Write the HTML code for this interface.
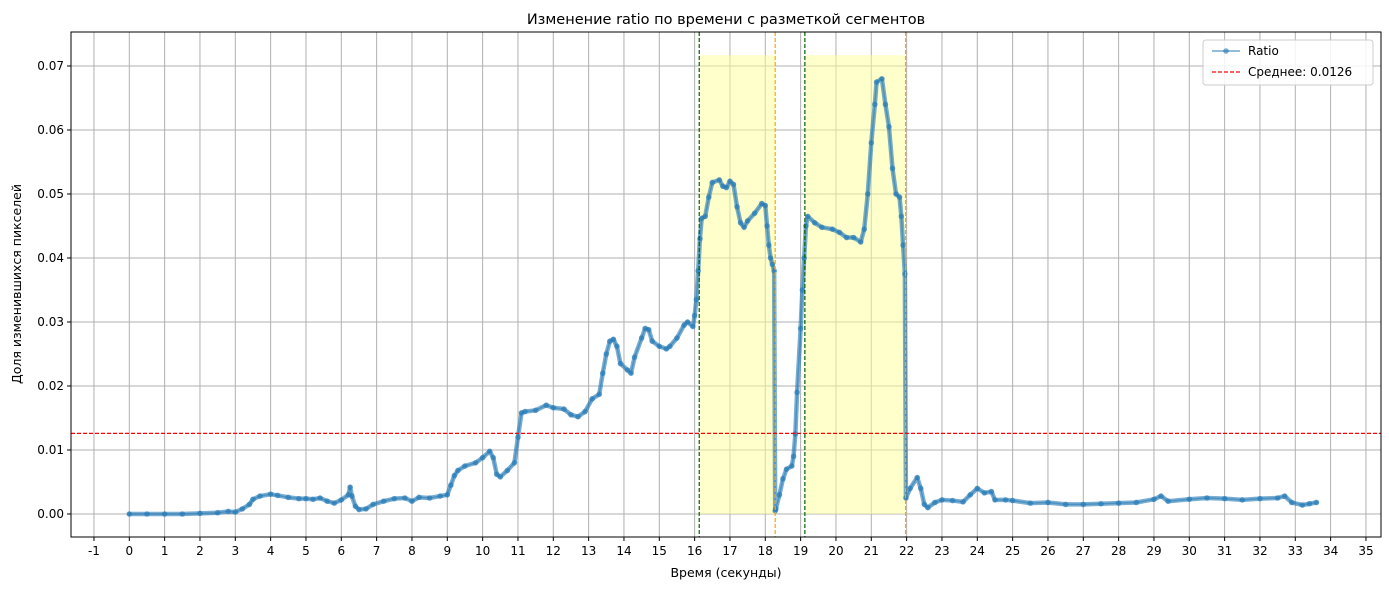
<!DOCTYPE html>
<html><head><meta charset="utf-8"><style>
body{margin:0;background:#fff;font-family:"Liberation Sans","DejaVu Sans",sans-serif}
svg text{font-family:"DejaVu Sans","Liberation Sans",sans-serif}
</style></head><body>
<svg id="c" width="1389" height="590" xmlns="http://www.w3.org/2000/svg"></svg>
<script>
const times=[0,0.5,1,1.5,2,2.5,2.8,3,3.2,3.4,3.5,3.7,4,4.2,4.5,4.8,5,5.2,5.4,5.6,5.8,6,6.2,6.25,6.3,6.4,6.5,6.7,6.9,7.2,7.5,7.8,8,8.2,8.5,8.8,9,9.1,9.2,9.3,9.5,9.8,10,10.2,10.3,10.4,10.5,10.7,10.9,11,11.1,11.2,11.5,11.8,12,12.3,12.5,12.7,12.9,13.1,13.3,13.4,13.5,13.6,13.7,13.8,13.9,14.1,14.2,14.3,14.5,14.6,14.7,14.8,15,15.2,15.3,15.5,15.7,15.8,15.95,16,16.05,16.1,16.15,16.2,16.3,16.4,16.5,16.7,16.8,16.9,17,17.1,17.2,17.3,17.4,17.5,17.7,17.9,18,18.05,18.1,18.15,18.2,18.25,18.28,18.3,18.4,18.5,18.6,18.75,18.8,18.85,18.9,19,19.05,19.1,19.15,19.2,19.4,19.6,19.9,20.1,20.3,20.5,20.7,20.8,20.9,21,21.1,21.15,21.3,21.4,21.5,21.6,21.7,21.8,21.85,21.9,21.95,21.98,22.1,22.3,22.4,22.5,22.6,22.8,23,23.3,23.6,23.8,24,24.2,24.4,24.5,24.8,25,25.5,26,26.5,27,27.5,28,28.5,29,29.2,29.4,30,30.5,31,31.5,32,32.5,32.7,32.9,33.2,33.4,33.6];
const ratios=[0,0,0,0,0.0001,0.0002,0.0004,0.0003,0.0008,0.0015,0.0023,0.0028,0.0031,0.0029,0.0026,0.0024,0.0024,0.0023,0.0025,0.002,0.0017,0.0022,0.003,0.0042,0.0028,0.0012,0.0007,0.0008,0.0015,0.002,0.0024,0.0025,0.002,0.0026,0.0025,0.0028,0.003,0.0045,0.006,0.0068,0.0075,0.008,0.0088,0.0098,0.0088,0.0062,0.0058,0.0068,0.008,0.012,0.0158,0.016,0.0162,0.017,0.0166,0.0164,0.0155,0.0152,0.016,0.018,0.0187,0.022,0.025,0.027,0.0273,0.0262,0.0235,0.0225,0.022,0.0245,0.0275,0.029,0.0288,0.027,0.0262,0.0258,0.0262,0.0275,0.0295,0.03,0.0293,0.031,0.0335,0.038,0.043,0.0462,0.0465,0.0495,0.0518,0.0522,0.0512,0.051,0.052,0.0515,0.048,0.0455,0.0448,0.0458,0.047,0.0485,0.0482,0.045,0.042,0.04,0.039,0.038,0.0005,0.0008,0.003,0.0055,0.007,0.0075,0.009,0.0125,0.019,0.029,0.035,0.04,0.045,0.0465,0.0455,0.0448,0.0445,0.044,0.0432,0.0432,0.0425,0.0445,0.05,0.058,0.064,0.0675,0.068,0.064,0.0605,0.054,0.05,0.0495,0.0465,0.042,0.0375,0.0025,0.004,0.0057,0.004,0.0015,0.001,0.0018,0.0022,0.0021,0.0019,0.003,0.004,0.0033,0.0035,0.0022,0.0022,0.0021,0.0017,0.0018,0.0015,0.0015,0.0016,0.0017,0.0018,0.0023,0.0028,0.002,0.0023,0.0025,0.0024,0.0022,0.0024,0.0025,0.0028,0.0018,0.0014,0.0016,0.0018];
const meanValue=0.0126;
const segStarts=[16.13,19.12];
const segEnds=[18.28,21.97];
const xTicks=[-1,0,1,2,3,4,5,6,7,8,9,10,11,12,13,14,15,16,17,18,19,20,21,22,23,24,25,26,27,28,29,30,31,32,33,34,35];
const yTicks=[0,0.01,0.02,0.03,0.04,0.05,0.06,0.07];

const svg=document.getElementById('c');const NS='http://www.w3.org/2000/svg';
const L=71,R=1381,T=32,B=537;
const X=t=>129.3+t*35.333;
const Y=v=>514-v*6400;
function mk(tag,attrs,parent){const e=document.createElementNS(NS,tag);for(const k in attrs)e.setAttribute(k,attrs[k]);(parent||svg).appendChild(e);return e;}
xTicks.forEach(t=>{
 const g=mk('line',{x1:X(t),x2:X(t),y1:T,y2:B,stroke:'#b0b0b0','stroke-width':1});
 
 
 mk('line',{x1:X(t),x2:X(t),y1:B,y2:B+4,stroke:'#000'});
 const tx=mk('text',{x:X(t),y:B+18,'text-anchor':'middle','font-size':12});tx.textContent=t;
 
 
});
yTicks.forEach(v=>{
 const g=mk('line',{x1:L,x2:R,y1:Y(v),y2:Y(v),stroke:'#b0b0b0','stroke-width':1});
 
 
 mk('line',{x1:L-4,x2:L,y1:Y(v),y2:Y(v),stroke:'#000'});
 const tx=mk('text',{x:L-7,y:Y(v)+4,'text-anchor':'end','font-size':12});tx.textContent=v.toFixed(2);
 
 
});
segStarts.forEach((s,i)=>{
 const r=mk('rect',{x:X(s),y:Y(0.0717),width:X(segEnds[i])-X(s),height:Y(0)-Y(0.0717),fill:'#ffff99','fill-opacity':0.5});
 
 
});
const pts=times.map((t,i)=>X(t)+','+Y(ratios[i])).join(' ');
const band=mk('polyline',{points:pts,fill:'none',stroke:'#1f77b4','stroke-opacity':0.6,'stroke-width':4.5,'stroke-linejoin':'round','stroke-linecap':'round'});


const pl=mk('polyline',{points:pts,fill:'none',stroke:'#1f77b4','stroke-opacity':0.5,'stroke-width':1.5});


times.forEach((t,i)=>{
 const c=mk('circle',{cx:X(t),cy:Y(ratios[i]),r:2.8,fill:'#1f77b4','fill-opacity':0.6});
 
 
});
segStarts.forEach((s,i)=>{
 const g=mk('line',{x1:X(s),x2:X(s),y1:T,y2:B,stroke:'#006400','stroke-dasharray':'4,2','stroke-width':1.2});
 
 
 const o=mk('line',{x1:X(segEnds[i]),x2:X(segEnds[i]),y1:T,y2:B,stroke:'#ffa500','stroke-dasharray':'4,2','stroke-width':1.2});
 
 
});
const ml=mk('line',{x1:L,x2:R,y1:Y(meanValue),y2:Y(meanValue),stroke:'#ff0000','stroke-dasharray':'4,2','stroke-width':1.2});


const fr=mk('rect',{x:L,y:T,width:R-L,height:B-T,fill:'none',stroke:'#000','stroke-width':1});


const ti=mk('text',{x:726,y:24,'text-anchor':'middle','font-size':14.5});ti.textContent='Изменение ratio по времени с разметкой сегментов';


const xl=mk('text',{x:726,y:577,'text-anchor':'middle','font-size':12.5});xl.textContent='Время (секунды)';


const yl=mk('text',{x:21,y:284,'text-anchor':'middle','font-size':12.5,transform:'rotate(-90 21 284)'});yl.textContent='Доля изменившихся пикселей';


const lg=mk('g',{});


mk('rect',{x:1203,y:40,width:170,height:45,rx:3,fill:'#fff','fill-opacity':0.85,stroke:'#ccc'},lg);
mk('line',{x1:1212,x2:1240,y1:51,y2:51,stroke:'#1f77b4','stroke-opacity':0.55,'stroke-width':1.8},lg);
mk('circle',{cx:1226,cy:51,r:2.8,fill:'#1f77b4','fill-opacity':0.6},lg);
const t1=mk('text',{x:1248,y:55,'font-size':12},lg);t1.textContent='Ratio';


mk('line',{x1:1212,x2:1240,y1:72,y2:72,stroke:'#ff0000','stroke-dasharray':'4,2','stroke-width':1.2},lg);
const t2=mk('text',{x:1248,y:76,'font-size':12},lg);t2.textContent='Среднее: 0.0126';


</script>
</body></html>
